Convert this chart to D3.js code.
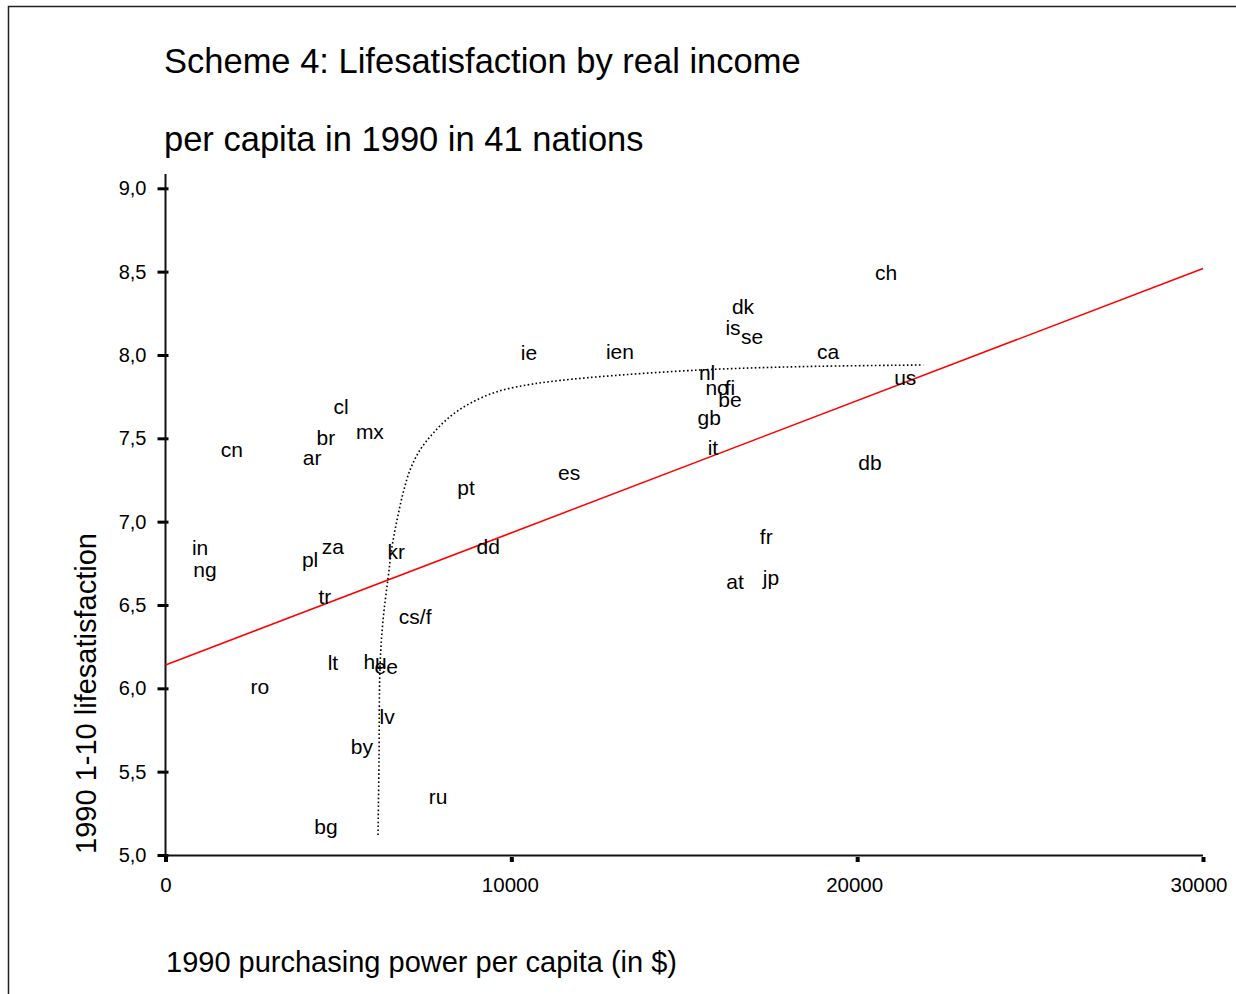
<!DOCTYPE html>
<html>
<head>
<meta charset="utf-8">
<script src="https://cdn.jsdelivr.net/npm/d3@7"></script>
<style>
  html, body { margin: 0; padding: 0; background: #fff; }
  svg { display: block; font-family: "Liberation Sans", Arial, Helvetica, sans-serif; }
</style>
</head>
<body>
<svg id="chart" width="1236" height="994"></svg>
<script>
// Nation codes, purchasing power per capita ($, 1990) and life satisfaction (1-10)
const nations = ["ch","dk","is","se","ca","ie","ien","nl","no","fi","be","us","gb","it","db","es","pt",
  "cl","br","mx","ar","cn","in","ng","za","pl","kr","dd","fr","jp","at","tr","cs/f","lt","hu","ee",
  "ro","lv","by","ru","bg"];
const income = [20840,16700,16410,16960,19160,10510,13140,15660,15950,16320,16320,21390,15720,15830,20370,11670,8690,
  5080,4640,5910,4240,1920,1000,1140,4840,4180,6670,9330,17370,17510,16470,4610,7220,4840,6060,6380,
  2730,6410,5680,7880,4640];
const satisfaction = [8.49,8.29,8.16,8.11,8.02,8.01,8.02,7.89,7.80,7.80,7.73,7.86,7.62,7.44,7.35,7.29,7.20,
  7.69,7.50,7.54,7.38,7.43,6.84,6.71,6.85,6.77,6.82,6.85,6.91,6.66,6.64,6.55,6.43,6.15,6.16,6.13,
  6.01,5.83,5.65,5.35,5.17];

// Linear fit: satisfaction = intercept + slope * income
const fitIntercept = 6.14;
const fitSlope = 0.0000793;

// Smoothed (non-linear) fit curve
const curveIncome = [6145,6174,6203,6290,6435,6550,6695,6868,7071,7360,7736,8228,8806,9587,10455,11120,12565,15460,18350,21910];
const curveSatisfaction = [5.12,5.57,6.13,6.41,6.66,6.85,7.01,7.17,7.31,7.43,7.53,7.63,7.71,7.78,7.82,7.84,7.87,7.91,7.93,7.94];

const xTicks = [0, 10000, 20000, 30000];
const yTicks = [5.0, 5.5, 6.0, 6.5, 7.0, 7.5, 8.0, 8.5, 9.0];

const titleLines = ["Scheme 4: Lifesatisfaction by real income", "per capita in 1990 in 41 nations"];
const xTitle = "1990 purchasing power per capita (in $)";
const yTitle = "1990 1-10 lifesatisfaction";

const svg = d3.select("#chart");

const x = d3.scaleLinear().domain([0, 30000]).range([165.5, 1203]);
const y = d3.scaleLinear().domain([5, 9]).range([855, 188.3]);

// outer frame
svg.append("rect")
  .attr("x", 8.5).attr("y", 6.5)
  .attr("width", 1240).attr("height", 1000)
  .attr("fill", "#fff").attr("stroke", "#222").attr("stroke-width", 1.5);

// title
svg.append("g").selectAll("text").data(titleLines).join("text")
  .attr("x", 164).attr("y", (d, i) => 73 + i * 78)
  .attr("font-size", 34.5).attr("fill", "#000")
  .text(d => d);

// y axis
const yAxis = svg.append("g").attr("transform", `translate(${x(0)},0)`)
  .call(d3.axisLeft(y).tickValues(yTicks)
    .tickFormat(d => d3.format(".1f")(d).replace(".", ","))
    .tickSize(8).tickPadding(10));
yAxis.select(".domain").remove();
yAxis.selectAll(".tick line").attr("x1", -8).attr("x2", 3).attr("stroke", "#000").attr("stroke-width", 3);
yAxis.selectAll(".tick text").attr("x", -19).attr("font-size", 20).attr("fill", "#000")
  .attr("font-family", "'Liberation Sans', Arial, sans-serif");
svg.append("line")
  .attr("x1", x(0)).attr("x2", x(0)).attr("y1", 174).attr("y2", y(5) + 1)
  .attr("stroke", "#111").attr("stroke-width", 2);

// x axis
const xAxis = svg.append("g").attr("transform", `translate(0,${y(5)})`)
  .call(d3.axisBottom(x).tickValues(xTicks).tickFormat(d3.format("d")).tickSize(8).tickPadding(0));
xAxis.select(".domain").remove();
xAxis.selectAll(".tick line").attr("y1", 2).attr("y2", 7).attr("stroke", "#000").attr("stroke-width", 4);
xAxis.selectAll(".tick text").attr("y", 37).attr("dy", 0).attr("dx", (d, i) => -1.5 * i)
  .attr("font-size", 20.5).attr("fill", "#000")
  .attr("font-family", "'Liberation Sans', Arial, sans-serif");
svg.append("line")
  .attr("x1", x(0)).attr("x2", x(30000)).attr("y1", y(5) + 0.5).attr("y2", y(5) + 0.5)
  .attr("stroke", "#111").attr("stroke-width", 2);

// axis titles
svg.append("text")
  .attr("x", 166).attr("y", 972)
  .attr("font-size", 29).attr("fill", "#000")
  .text(xTitle);
svg.append("text")
  .attr("transform", "translate(96,693.5) rotate(-90)")
  .attr("text-anchor", "middle")
  .attr("font-size", 29).attr("fill", "#000")
  .text(yTitle);

// linear fit line
svg.append("line")
  .attr("x1", x(0)).attr("y1", y(fitIntercept + fitSlope * 0))
  .attr("x2", x(30000)).attr("y2", y(fitIntercept + fitSlope * 30000))
  .attr("stroke", "#f00").attr("stroke-width", 1.5);

// smoothed fit curve (dotted)
const curvePts = curveIncome.map((v, i) => [v, curveSatisfaction[i]]);
svg.append("path")
  .datum(curvePts)
  .attr("d", d3.line().x(d => x(d[0])).y(d => y(d[1])).curve(d3.curveCatmullRom.alpha(0.5)))
  .attr("fill", "none").attr("stroke", "#000").attr("stroke-width", 1.6)
  .attr("stroke-dasharray", "1.6,2.4");

// case labels
const cases = nations.map((n, i) => ({ n, inc: income[i], sat: satisfaction[i] }));
svg.append("g").selectAll("text").data(cases).join("text")
  .attr("x", d => x(d.inc)).attr("y", d => y(d.sat))
  .attr("dy", "0.33em")
  .attr("text-anchor", "middle")
  .attr("font-size", 21).attr("fill", "#000")
  .text(d => d.n);
</script>
</body>
</html>
